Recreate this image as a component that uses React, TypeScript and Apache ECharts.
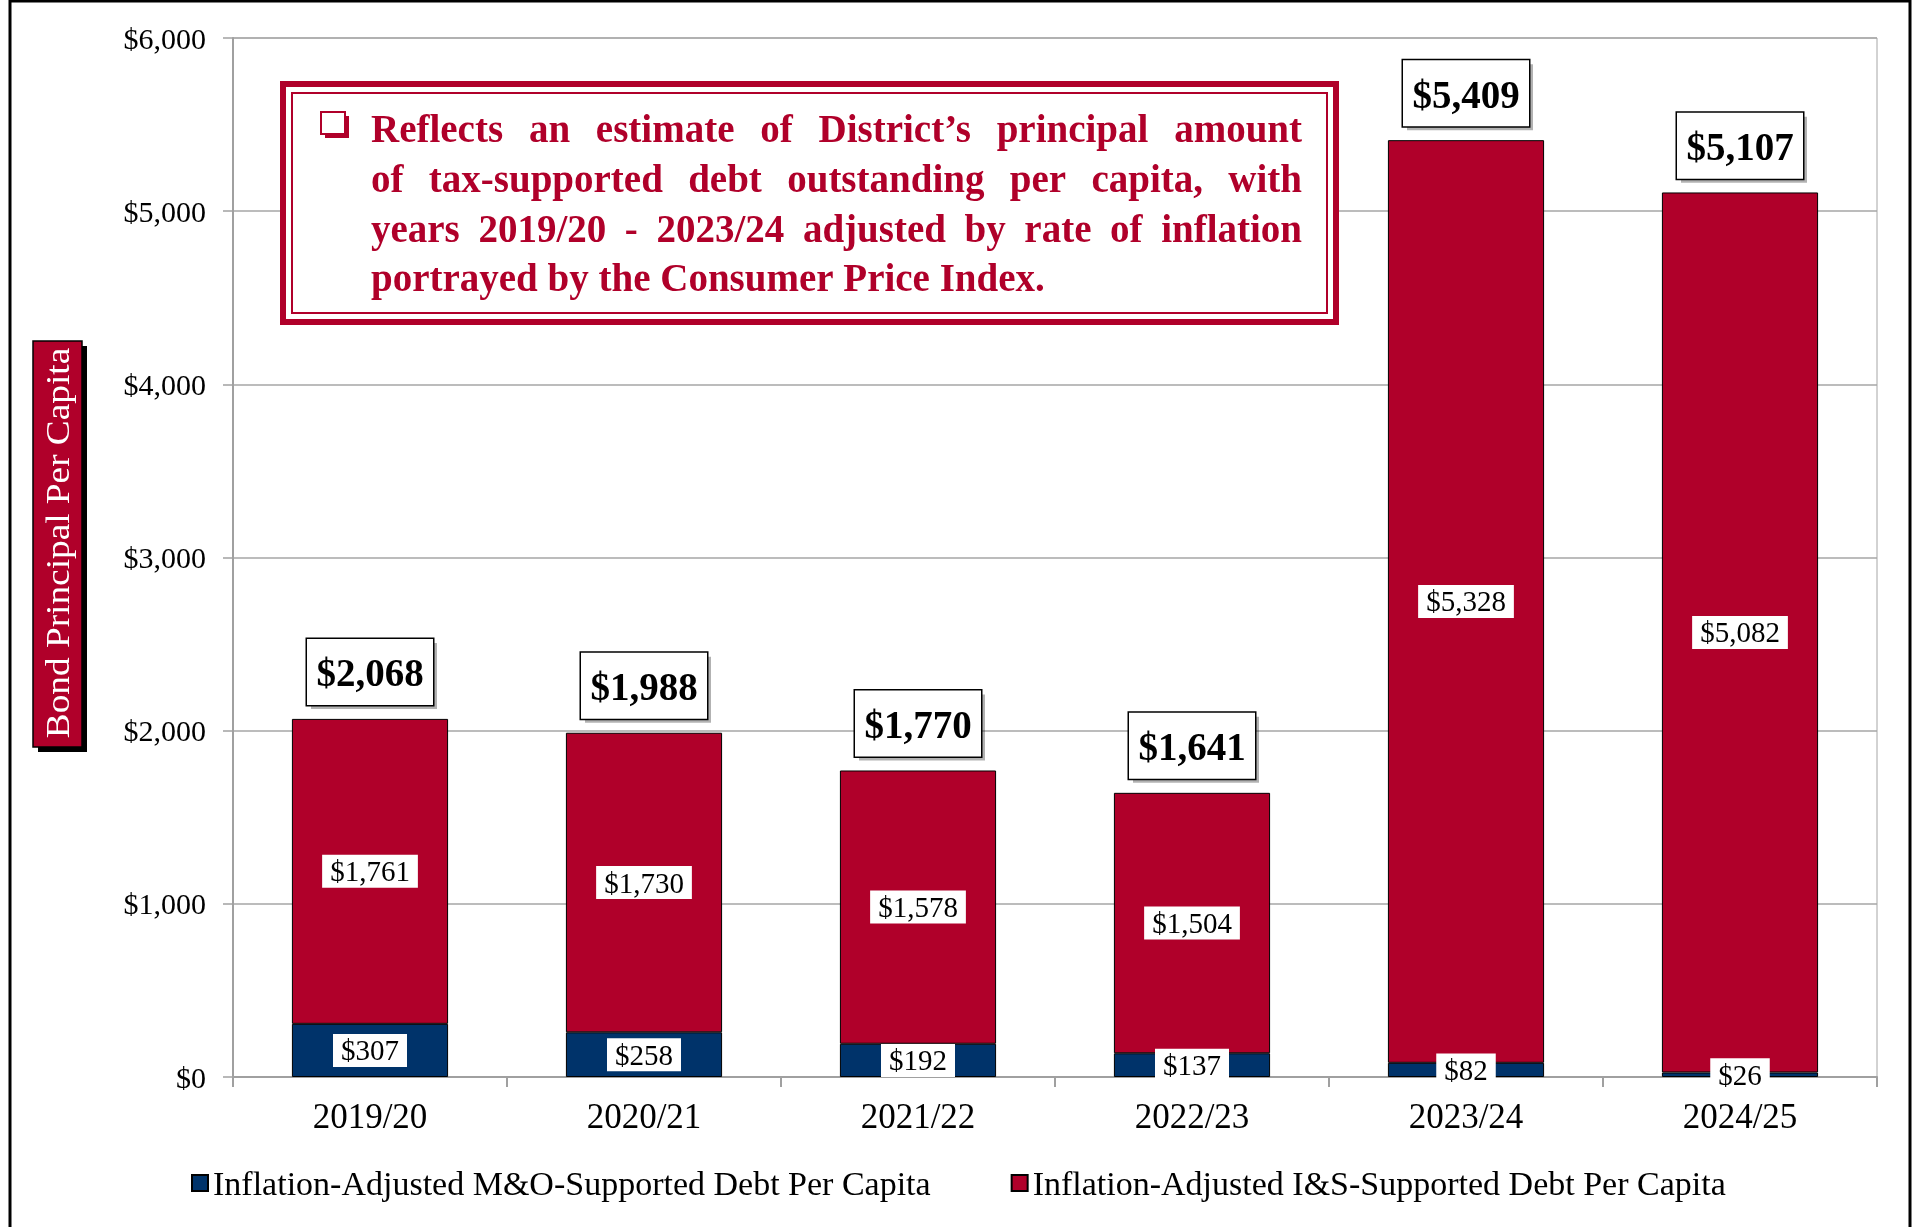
import React, { useEffect, useRef } from "react";
import * as echarts from "echarts";

const categories = ["2019/20", "2020/21", "2021/22", "2022/23", "2023/24", "2024/25"];
const moValues = [307, 258, 192, 137, 82, 26];
const isValues = [1761, 1730, 1578, 1504, 5328, 5082];
const totalValues = [2068, 1988, 1770, 1641, 5409, 5107];
const yTicks = { min: 0, max: 6000, interval: 1000 };
const seriesNames = [
  "Inflation-Adjusted M&O-Supported Debt Per Capita",
  "Inflation-Adjusted I&S-Supported Debt Per Capita",
];
const noteLines = [
  "Reflects an estimate of District\u2019s principal amount",
  "of tax-supported debt outstanding per capita, with",
  "years 2019/20 - 2023/24 adjusted by rate of inflation",
  "portrayed by the Consumer Price Index.",
];
const yAxisTitle = "Bond Principal Per Capita";

const RED = "#B0002A";
const NAVY = "#00336A";
const FONT = '"Liberation Serif", "Times New Roman", serif';

const money = (v: number) => "$" + v.toLocaleString("en-US");

function buildNote(): any[] {
  const els: any[] = [];
  const fontSize = 39;
  const fontStr = `bold ${fontSize}px "Liberation Serif"`;
  const canvas = document.createElement("canvas");
  const ctx = canvas.getContext("2d")!;
  ctx.font = fontStr;
  const left = 371;
  const right = 1302;
  const ys = [128, 178, 228, 277];
  noteLines.forEach((line, li) => {
    const y = ys[li];
    const words = line.split(" ");
    const widths = words.map((w) => ctx.measureText(w).width);
    const sum = widths.reduce((a, b) => a + b, 0);
    const natural = ctx.measureText(" ").width;
    let gap = (right - left - sum) / (words.length - 1);
    if (li === noteLines.length - 1 || gap < natural) gap = natural;
    let x = left;
    words.forEach((w, i) => {
      els.push({
        type: "text",
        x,
        y,
        style: { text: w, font: fontStr, fill: RED, verticalAlign: "middle", align: "left" },
      });
      x += widths[i] + gap;
    });
  });
  return els;
}

export default function App() {
  const ref = useRef<HTMLDivElement>(null);
  useEffect(() => {
    document.body.style.margin = "0";
    const chart = echarts.init(ref.current!, null, { renderer: "svg" });
    const graphics: any[] = [
      // outer frame
      { type: "rect", shape: { x: 10, y: 1, width: 1900, height: 1260 }, style: { fill: "none", stroke: "#000", lineWidth: 3 }, z: 100 },
      // note box
      { type: "rect", shape: { x: 283, y: 84, width: 1053, height: 238 }, style: { fill: "#fff", stroke: RED, lineWidth: 6 }, z: 10 },
      { type: "rect", shape: { x: 292, y: 93, width: 1035, height: 220 }, style: { fill: "none", stroke: RED, lineWidth: 2 }, z: 10 },
      // bullet
      { type: "rect", shape: { x: 325, y: 116, width: 24, height: 22 }, style: { fill: RED }, z: 10 },
      { type: "rect", shape: { x: 321, y: 112, width: 24, height: 22 }, style: { fill: "#fff", stroke: RED, lineWidth: 2 }, z: 11 },
      ...buildNote().map((e) => ({ ...e, z: 12 })),
      // y axis title box
      { type: "rect", shape: { x: 38, y: 346, width: 49, height: 406 }, style: { fill: "#000" }, z: 10 },
      { type: "rect", shape: { x: 33, y: 341, width: 49, height: 406 }, style: { fill: RED, stroke: "#000", lineWidth: 1.5 }, z: 11 },
      {
        type: "text",
        x: 58,
        y: 543,
        rotation: Math.PI / 2,
        scaleX: 1.13,
        style: { text: yAxisTitle, font: `33px ${FONT}`, fill: "#fff", align: "center", verticalAlign: "middle" },
        z: 12,
      },
    ];

    const segLabel = {
      show: true,
      position: "inside",
      formatter: (p: any) => money(p.value),
      color: "#000",
      fontFamily: FONT,
      fontSize: 29,
      backgroundColor: "#fff",
      padding: [3, 8, 1, 8],
    };

    const totalBox = {
      show: true,
      position: "top",
      distance: 14,
      fontFamily: FONT,
      fontWeight: "bold",
      fontSize: 39,
      width: 108,
      height: 42,
      lineHeight: 42,
      align: "center",
      padding: [13, 9, 11, 9],
    };

    chart.setOption({
      animation: false,
      grid: { left: 233, right: 38, top: 38, bottom: 150, show: true, borderColor: "#A6A6A6", borderWidth: 1, backgroundColor: "transparent" },
      legend: {
        data: seriesNames,
        left: 186,
        top: 1161,
        icon: "rect",
        itemWidth: 16,
        itemHeight: 16,
        itemGap: 80,
        textStyle: { fontFamily: FONT, fontSize: 34, color: "#000" },
      },
      xAxis: {
        type: "category",
        data: categories,
        axisLine: { lineStyle: { color: "#A0A0A0", width: 2 } },
        axisTick: { show: true, length: 10, lineStyle: { color: "#A0A0A0", width: 2 } },
        axisLabel: { fontFamily: FONT, fontSize: 35, color: "#000", margin: 22 },
      },
      yAxis: {
        type: "value",
        min: yTicks.min,
        max: yTicks.max,
        interval: yTicks.interval,
        axisLine: { show: true, lineStyle: { color: "#A0A0A0", width: 2 } },
        axisTick: { show: true, length: 10, lineStyle: { color: "#A0A0A0", width: 1.5 } },
        splitLine: { lineStyle: { color: "#A6A6A6", width: 1.5 } },
        axisLabel: { fontFamily: FONT, fontSize: 30, color: "#000", margin: 27, formatter: (v: number) => money(v) },
      },
      series: [
        {
          name: seriesNames[0],
          type: "bar",
          stack: "debt",
          barWidth: "57%",
          data: moValues,
          itemStyle: { color: NAVY, borderColor: "#000", borderWidth: 1 },
          label: segLabel,
        },
        {
          name: seriesNames[1],
          type: "bar",
          stack: "debt",
          barWidth: "57%",
          data: isValues,
          itemStyle: { color: RED, borderColor: "#000", borderWidth: 1 },
          label: segLabel,
        },
        {
          name: "TotalShadow",
          type: "scatter",
          symbolSize: 0,
          silent: true,
          z: 4,
          itemStyle: { opacity: 1 },
          data: totalValues.map((v, i) => [i, v]),
          label: {
            ...totalBox,
            formatter: () => " ",
            color: "rgba(0,0,0,0)",
            backgroundColor: "rgba(0,0,0,0.3)",
            offset: [4, 4],
          },
        },
        {
          name: "Total",
          type: "scatter",
          symbolSize: 0,
          z: 5,
          itemStyle: { opacity: 1 },
          data: totalValues.map((v, i) => [i, v]),
          label: {
            ...totalBox,
            formatter: (p: any) => money(p.value[1]),
            color: "#000",
            backgroundColor: "#fff",
            borderColor: "#000",
            borderWidth: 1.5,
          },
        },
      ],
      graphic: { elements: graphics },
    });
    return () => chart.dispose();
  }, []);
  return <div ref={ref} style={{ position: "fixed", left: 0, top: 0, width: 1915, height: 1227 }} />;
}
